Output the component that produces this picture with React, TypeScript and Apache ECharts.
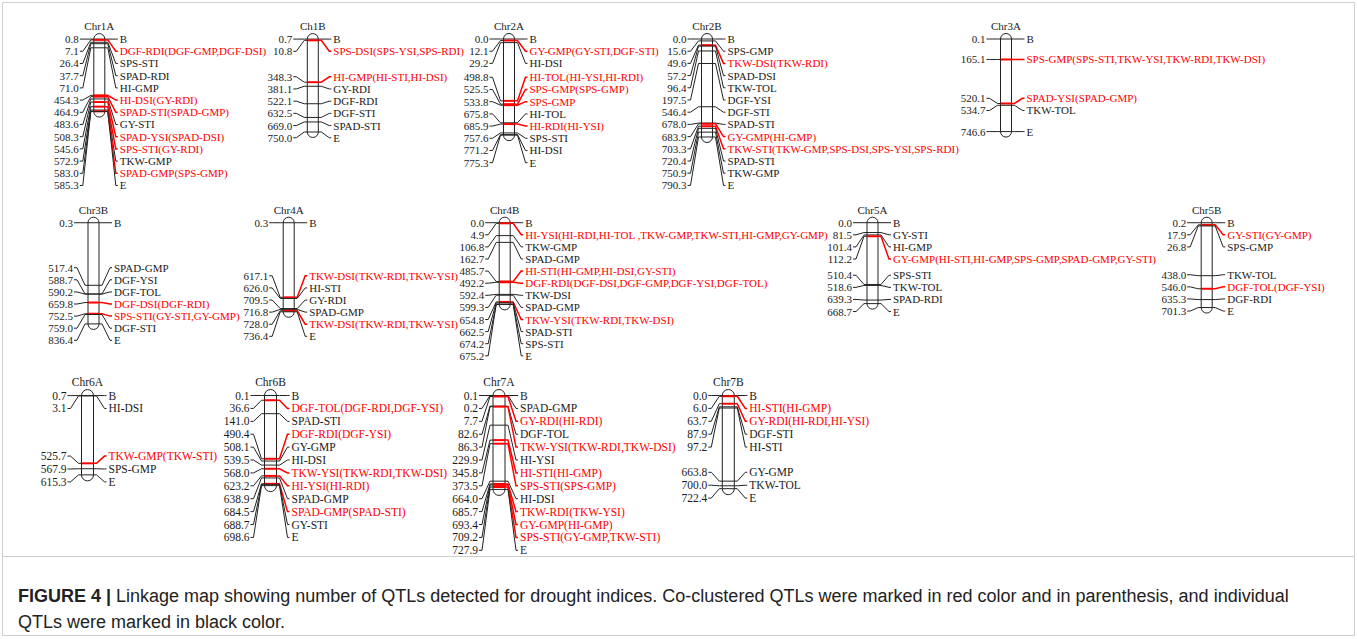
import React, { useEffect, useRef } from "react";
import * as echarts from "echarts";

// ---------------- data ----------------
const chr1A_cM = [0.8, 7.1, 26.4, 37.7, 71.0, 454.3, 464.9, 483.6, 508.3, 545.6, 572.9, 583.0, 585.3];
const chr1A_qtl = ["B", "DGF-RDI(DGF-GMP,DGF-DSI)", "SPS-STI", "SPAD-RDI", "HI-GMP", "HI-DSI(GY-RDI)", "SPAD-STI(SPAD-GMP)", "GY-STI", "SPAD-YSI(SPAD-DSI)", "SPS-STI(GY-RDI)", "TKW-GMP", "SPAD-GMP(SPS-GMP)", "E"];
const chr1A_red = [0, 1, 0, 0, 0, 1, 1, 0, 1, 1, 0, 1, 0];

const chr1B_cM = [0.7, 10.8, 348.3, 381.1, 522.1, 632.5, 669.0, 750.0];
const chr1B_qtl = ["B", "SPS-DSI(SPS-YSI,SPS-RDI)", "HI-GMP(HI-STI,HI-DSI)", "GY-RDI", "DGF-RDI", "DGF-STI", "SPAD-STI", "E"];
const chr1B_red = [0, 1, 1, 0, 0, 0, 0, 0];

const chr2A_cM = [0.0, 12.1, 29.2, 498.8, 525.5, 533.8, 675.8, 685.9, 757.6, 771.2, 775.3];
const chr2A_qtl = ["B", "GY-GMP(GY-STI,DGF-STI)", "HI-DSI", "HI-TOL(HI-YSI,HI-RDI)", "SPS-GMP(SPS-GMP)", "SPS-GMP", "HI-TOL", "HI-RDI(HI-YSI)", "SPS-STI", "HI-DSI", "E"];
const chr2A_red = [0, 1, 0, 1, 1, 1, 0, 1, 0, 0, 0];

const chr2B_cM = [0.0, 15.6, 49.6, 57.2, 96.4, 197.5, 546.4, 678.0, 683.9, 703.3, 720.4, 750.9, 790.3];
const chr2B_qtl = ["B", "SPS-GMP", "TKW-DSI(TKW-RDI)", "SPAD-DSI", "TKW-TOL", "DGF-YSI", "DGF-STI", "SPAD-STI", "GY-GMP(HI-GMP)", "TKW-STI(TKW-GMP,SPS-DSI,SPS-YSI,SPS-RDI)", "SPAD-STI", "TKW-GMP", "E"];
const chr2B_red = [0, 0, 1, 0, 0, 0, 0, 0, 1, 1, 0, 0, 0];

const chr3A_cM = [0.1, 165.1, 520.1, 534.7, 746.6];
const chr3A_qtl = ["B", "SPS-GMP(SPS-STI,TKW-YSI,TKW-RDI,TKW-DSI)", "SPAD-YSI(SPAD-GMP)", "TKW-TOL", "E"];
const chr3A_red = [0, 1, 1, 0, 0];

const chr3B_cM = [0.3, 517.4, 588.7, 590.2, 659.8, 752.5, 759.0, 836.4];
const chr3B_qtl = ["B", "SPAD-GMP", "DGF-YSI", "DGF-TOL", "DGF-DSI(DGF-RDI)", "SPS-STI(GY-STI,GY-GMP)", "DGF-STI", "E"];
const chr3B_red = [0, 0, 0, 0, 1, 1, 0, 0];

const chr4A_cM = [0.3, 617.1, 626.0, 709.5, 716.8, 728.0, 736.4];
const chr4A_qtl = ["B", "TKW-DSI(TKW-RDI,TKW-YSI)", "HI-STI", "GY-RDI", "SPAD-GMP", "TKW-DSI(TKW-RDI,TKW-YSI)", "E"];
const chr4A_red = [0, 1, 0, 0, 0, 1, 0];

const chr4B_cM = [0.0, 4.9, 106.8, 162.7, 485.7, 492.2, 592.4, 599.3, 654.8, 662.5, 674.2, 675.2];
const chr4B_qtl = ["B", "HI-YSI(HI-RDI,HI-TOL ,TKW-GMP,TKW-STI,HI-GMP,GY-GMP)", "TKW-GMP", "SPAD-GMP", "HI-STI(HI-GMP,HI-DSI,GY-STI)", "DGF-RDI(DGF-DSI,DGF-GMP,DGF-YSI,DGF-TOL)", "TKW-DSI", "SPAD-GMP", "TKW-YSI(TKW-RDI,TKW-DSI)", "SPAD-STI", "SPS-STI", "E"];
const chr4B_red = [0, 1, 0, 0, 1, 1, 0, 0, 1, 0, 0, 0];

const chr5A_cM = [0.0, 81.5, 101.4, 112.2, 510.4, 518.6, 639.3, 668.7];
const chr5A_qtl = ["B", "GY-STI", "HI-GMP", "GY-GMP(HI-STI,HI-GMP,SPS-GMP,SPAD-GMP,GY-STI)", "SPS-STI", "TKW-TOL", "SPAD-RDI", "E"];
const chr5A_red = [0, 0, 0, 1, 0, 0, 0, 0];

const chr5B_cM = [0.2, 17.9, 26.8, 438.0, 546.0, 635.3, 701.3];
const chr5B_qtl = ["B", "GY-STI(GY-GMP)", "SPS-GMP", "TKW-TOL", "DGF-TOL(DGF-YSI)", "DGF-RDI", "E"];
const chr5B_red = [0, 1, 0, 0, 1, 0, 0];

const chr6A_cM = [0.7, 3.1, 525.7, 567.9, 615.3];
const chr6A_qtl = ["B", "HI-DSI", "TKW-GMP(TKW-STI)", "SPS-GMP", "E"];
const chr6A_red = [0, 0, 1, 0, 0];

const chr6B_cM = [0.1, 36.6, 141.0, 490.4, 508.1, 539.5, 568.0, 623.2, 638.9, 684.5, 688.7, 698.6];
const chr6B_qtl = ["B", "DGF-TOL(DGF-RDI,DGF-YSI)", "SPAD-STI", "DGF-RDI(DGF-YSI)", "GY-GMP", "HI-DSI", "TKW-YSI(TKW-RDI,TKW-DSI)", "HI-YSI(HI-RDI)", "SPAD-GMP", "SPAD-GMP(SPAD-STI)", "GY-STI", "E"];
const chr6B_red = [0, 1, 0, 1, 0, 0, 1, 1, 0, 1, 0, 0];

const chr7A_cM = [0.1, 0.2, 7.7, 82.6, 86.3, 229.9, 345.8, 373.5, 664.0, 685.7, 693.4, 709.2, 727.9];
const chr7A_qtl = ["B", "SPAD-GMP", "GY-RDI(HI-RDI)", "DGF-TOL", "TKW-YSI(TKW-RDI,TKW-DSI)", "HI-YSI", "HI-STI(HI-GMP)", "SPS-STI(SPS-GMP)", "HI-DSI", "TKW-RDI(TKW-YSI)", "GY-GMP(HI-GMP)", "SPS-STI(GY-GMP,TKW-STI)", "E"];
const chr7A_red = [0, 0, 1, 0, 1, 0, 1, 1, 0, 1, 1, 1, 0];

const chr7B_cM = [0.0, 6.0, 63.7, 87.9, 97.2, 663.8, 700.0, 722.4];
const chr7B_qtl = ["B", "HI-STI(HI-GMP)", "GY-RDI(HI-RDI,HI-YSI)", "DGF-STI", "HI-STI", "GY-GMP", "TKW-TOL", "E"];
const chr7B_red = [0, 1, 1, 0, 0, 0, 0, 0];

const CHROMS = [
  { name: "Chr1A", cM: chr1A_cM, qtl: chr1A_qtl, red: chr1A_red },
  { name: "Ch1B", cM: chr1B_cM, qtl: chr1B_qtl, red: chr1B_red },
  { name: "Chr2A", cM: chr2A_cM, qtl: chr2A_qtl, red: chr2A_red },
  { name: "Chr2B", cM: chr2B_cM, qtl: chr2B_qtl, red: chr2B_red },
  { name: "Chr3A", cM: chr3A_cM, qtl: chr3A_qtl, red: chr3A_red },
  { name: "Chr3B", cM: chr3B_cM, qtl: chr3B_qtl, red: chr3B_red },
  { name: "Chr4A", cM: chr4A_cM, qtl: chr4A_qtl, red: chr4A_red },
  { name: "Chr4B", cM: chr4B_cM, qtl: chr4B_qtl, red: chr4B_red },
  { name: "Chr5A", cM: chr5A_cM, qtl: chr5A_qtl, red: chr5A_red },
  { name: "Chr5B", cM: chr5B_cM, qtl: chr5B_qtl, red: chr5B_red },
  { name: "Chr6A", cM: chr6A_cM, qtl: chr6A_qtl, red: chr6A_red },
  { name: "Chr6B", cM: chr6B_cM, qtl: chr6B_qtl, red: chr6B_red },
  { name: "Chr7A", cM: chr7A_cM, qtl: chr7A_qtl, red: chr7A_red },
  { name: "Chr7B", cM: chr7B_cM, qtl: chr7B_qtl, red: chr7B_red },
];

const CAPTION_BOLD = "FIGURE 4 |";
const CAPTION_LINE1 = " Linkage map showing number of QTLs detected for drought indices. Co-clustered QTLs were marked in red color and in parenthesis, and individual";
const CAPTION_LINE2 = "QTLs were marked in black color.";

// ---------------- layout (positions / styles only) ----------------
const ROWS = [
  { top: 39, k: 0.124, step: 12.2, width: 11, font: 11 },
  { top: 222.7, k: 0.121, step: 12.1, width: 11, font: 11 },
  { top: 395.5, k: 0.129, step: 12.9, width: 12, font: 11.5 },
];
const PLACE = [
  { row: 0, cx: 99.3 },
  { row: 0, cx: 312.8 },
  { row: 0, cx: 509 },
  { row: 0, cx: 707 },
  { row: 0, cx: 1006 },
  { row: 1, cx: 93.5 },
  { row: 1, cx: 288.7 },
  { row: 1, cx: 504.7 },
  { row: 1, cx: 872.5 },
  { row: 1, cx: 1206.7 },
  { row: 2, cx: 87.5 },
  { row: 2, cx: 270.5 },
  { row: 2, cx: 499 },
  { row: 2, cx: 728.3 },
];
const RED = "#ff0000";
const INK = "#1a1a1a";
const SERIF = "'Liberation Serif', 'Times New Roman', serif";
const SANS = "'Liberation Sans', Arial, sans-serif";

// spread labels: keep order, min spacing d, least squares to true positions, lower bound
function spread(ys: number[], d: number, lower: number): number[] {
  const t = ys.map((y, i) => y - i * d);
  const blocks: { s: number; c: number }[] = [];
  for (const v of t) {
    blocks.push({ s: v, c: 1 });
    while (blocks.length > 1) {
      const a = blocks[blocks.length - 2];
      const b = blocks[blocks.length - 1];
      if (a.s / a.c > b.s / b.c) {
        a.s += b.s;
        a.c += b.c;
        blocks.pop();
      } else break;
    }
  }
  const q: number[] = [];
  for (const b of blocks) for (let j = 0; j < b.c; j++) q.push(Math.max(b.s / b.c, lower));
  return q.map((v, i) => v + i * d);
}

function makeRender(chr: any, row: any) {
  return (params: any, api: any) => {
    const i = params.dataIndex;
    const pts = chr.cM.map((v: number) => api.coord([0, v]));
    const ys = pts.map((p: number[]) => p[1]);
    const L = api.coord([-1, 0])[0];
    const R = api.coord([1, 0])[0];
    const labs = spread(ys, row.step, ys[0]);
    const my = ys[i];
    const ly = labs[i];
    const isRed = chr.red[i] === 1;
    const col = isRed ? RED : INK;
    const children: any[] = [];
    if (i === 0) {
      const yTop = ys[0];
      const yEnd = ys[ys.length - 1];
      const w = R - L;
      children.push({
        type: "rect",
        shape: { x: L, y: yTop - w / 2, width: w, height: yEnd - yTop + w, r: w / 2 },
        style: { fill: "#fff", stroke: "#222", lineWidth: 1 },
      });
      children.push({
        type: "text",
        x: (L + R) / 2,
        y: yTop - w / 2 - 2,
        style: { text: chr.name, fill: INK, font: `${row.font}px ${SERIF}`, align: "center", verticalAlign: "bottom" },
      });
    }
    children.push({
      type: "line",
      shape: { x1: L, y1: my, x2: R, y2: my },
      style: { stroke: isRed ? RED : "#222", lineWidth: isRed ? 2 : 1 },
    });
    children.push({
      type: "polyline",
      shape: { points: [[L - 14, ly], [L - 11, ly], [L - 3, my], [L, my]] },
      style: { stroke: "#222", lineWidth: 1, fill: null },
    });
    children.push({
      type: "polyline",
      shape: { points: [[R, my], [R + 3, my], [R + 11, ly], [R + 13, ly]] },
      style: { stroke: isRed ? RED : "#222", lineWidth: isRed ? 1.5 : 1, fill: null },
    });
    children.push({
      type: "text",
      x: L - 15,
      y: ly,
      style: { text: chr.cM[i].toFixed(1), fill: INK, font: `${row.font}px ${SERIF}`, align: "right", verticalAlign: "middle" },
    });
    children.push({
      type: "text",
      x: R + 15,
      y: ly,
      style: { text: chr.qtl[i], fill: col, font: `${row.font}px ${SERIF}`, align: "left", verticalAlign: "middle" },
    });
    return { type: "group", children };
  };
}

export default function App() {
  const ref = useRef<HTMLDivElement>(null);
  useEffect(() => {
    if (!ref.current) return;
    const chart = echarts.init(ref.current, undefined, { renderer: "svg" });
    const grid: any[] = [];
    const xAxis: any[] = [];
    const yAxis: any[] = [];
    const series: any[] = [];
    CHROMS.forEach((chr, j) => {
      const pl = PLACE[j];
      const row = ROWS[pl.row];
      const len = chr.cM[chr.cM.length - 1];
      grid.push({ left: pl.cx - row.width / 2, width: row.width, top: row.top, height: len * row.k, containLabel: false });
      xAxis.push({ gridIndex: j, type: "value", min: -1, max: 1, show: false });
      yAxis.push({ gridIndex: j, type: "value", min: 0, max: len, inverse: true, show: false });
      series.push({
        type: "custom",
        coordinateSystem: "cartesian2d",
        xAxisIndex: j,
        yAxisIndex: j,
        clip: false,
        silent: true,
        data: chr.cM.map((v) => [0, v]),
        renderItem: makeRender(chr, row),
      });
    });
    chart.setOption({
      animation: false,
      backgroundColor: "#ffffff",
      grid,
      xAxis,
      yAxis,
      series,
      graphic: [
        {
          type: "rect",
          shape: { x: 2.5, y: 2.5, width: 1352, height: 633 },
          style: { fill: null, stroke: "#cfcfcf", lineWidth: 1 },
          z: -1,
        },
        {
          type: "line",
          shape: { x1: 2.5, y1: 556.5, x2: 1354.5, y2: 556.5 },
          style: { stroke: "#cfcfcf", lineWidth: 1 },
        },
        {
          type: "text",
          x: 18,
          y: 583,
          style: {
            text: `{b|${CAPTION_BOLD}}${CAPTION_LINE1}\n${CAPTION_LINE2}`,
            font: `18px ${SANS}`,
            fill: "#222",
            lineHeight: 26,
            rich: { b: { fontWeight: "bold", fontSize: 18, fontFamily: SANS, fill: "#222", lineHeight: 26 } },
          },
        },
      ],
    });
    return () => chart.dispose();
  }, []);
  return <div ref={ref} style={{ position: "absolute", left: 0, top: 0, width: 1357, height: 639 }} />;
}
